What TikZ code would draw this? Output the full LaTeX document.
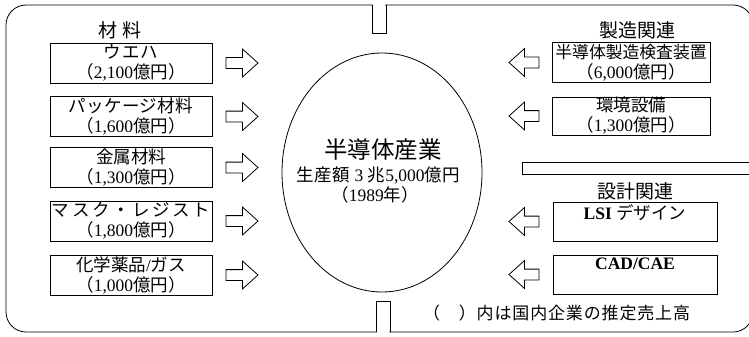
\documentclass[tikz,border=0pt]{standalone}
\usepackage{fontspec}
\setmainfont{Liberation Serif}
\newfontfamily\cj{Noto Sans CJK JP}
\usetikzlibrary{shapes.geometric,shapes.arrows}
\newcommand\jp[1]{{\cj #1}}
\newcommand\jls[2]{{\cj\addfontfeature{LetterSpace=#1}#2}}
\tikzset{
  frameline/.style={line width=0.8pt},
  box/.style={draw, line width=0.8pt, minimum width=162pt, minimum height=40pt, inner sep=0pt},
  txt/.style={align=center, font=\fontsize{17.5}{20}\selectfont, inner sep=0pt},
  head/.style={font=\fontsize{19}{20}\selectfont, inner sep=0pt},
  rarrow/.style={single arrow, draw, line width=0.8pt, inner sep=0pt, text height=10pt, text depth=0pt,
    minimum height=32pt, single arrow head extend=8.5pt, single arrow tip angle=84},
  larrow/.style={rarrow, shape border rotate=180, minimum height=30pt},
}
\begin{document}
\begin{tikzpicture}[x=1pt,y=-1pt]
\useasboundingbox (0,0) rectangle (749,337);
\clip (0,0) rectangle (749,337);
% outer frame
\draw[frameline, rounded corners=20pt] (6,5) rectangle (753,332);
\fill[white] (372.6,2) rectangle (385.4,8);
\draw[frameline] (372,5) -- (372,33) -- (386,33) -- (386,5);
\fill[white] (376.6,329) rectangle (389.4,335);
\draw[frameline] (376,332) -- (376,301) -- (390,301) -- (390,332);
\draw[frameline] (760,162) -- (522,162) -- (522,174) -- (760,174);

% headings
\node[head] (hmat) at (120,30) {\jp{材}\hspace{6pt}\jp{料}};
\node[head] (hman) at (637,30) {\jp{製造関連}};
\node[head] (hdes) at (635,191) {\jp{設計関連}};

% left boxes
\node[box] (m1) at (131,63) {};
\node[txt] at (m1) {\jls{6}{ウエハ}\\\jp{（}2,100\jp{億円）}};
\node[box] (m2) at (131,116.5) {};
\node[txt] at (m2) {\jls{2}{パッケージ材料}\\\jp{（}1,600\jp{億円）}};
\node[box] (m3) at (131,167.5) {};
\node[txt] at (m3) {\jp{金属材料}\\\jp{（}1,300\jp{億円）}};
\node[box] (m4) at (131,221) {};
\node[txt] at (m4) {\jls{15}{マスク・レジスト}\\\jp{（}1,800\jp{億円）}};
\node[box] (m5) at (131,275) {};
\node[txt] at (m5) {\jp{化学薬品}/\jp{ガス}\\\jp{（}1,000\jp{億円）}};

% left arrows
\node[rarrow] (a1) at (239,63) {};
\node[rarrow] (a2) at (239,116.5) {};
\node[rarrow] (a3) at (239,167.5) {};
\node[rarrow] (a4) at (239,221) {};
\node[rarrow] (a5) at (239,275) {};

% center ellipse
\node[ellipse, draw, line width=0.8pt, minimum width=200pt, minimum height=239pt, inner sep=0pt] (core) at (382,172.5) {};
\node[inner sep=0pt, font=\fontsize{23.5}{24}\selectfont] (c1) at (383,150) {\jp{半導体産業}};
\node[inner sep=0pt, font=\fontsize{17.5}{20}\selectfont] (c2) at (378,175) {\jls{4}{生産額} 3 \jp{兆}5,000\jp{億円}};
\node[inner sep=0pt, font=\fontsize{17.5}{20}\selectfont] (c3) at (375,195) {\jp{（}1989\jp{年）}};

% right boxes
\node[box, minimum width=158pt] (p1) at (631,62.5) {};
\node[txt] at (p1) {{\fontsize{16.8}{20}\selectfont\jp{半導体製造検査装置}}\\\jp{（}6,000\jp{億円）}};
\node[box, minimum width=158pt, minimum height=38pt] (p2) at (631,116) {};
\node[txt] at (p2) {\jp{環境設備}\\\jp{（}1,300\jp{億円）}};
\node[box, minimum width=164pt, minimum height=39pt] (d1) at (635,221.5) {};
\node[txt, anchor=north] at ([yshift=-3pt]d1.north) {\textbf{LSI} \jp{デザイン}};
\node[box, minimum width=164pt, minimum height=39pt] (d2) at (635,274.5) {};
\node[txt, anchor=north] at ([yshift=-3pt]d2.north) {\textbf{CAD/CAE}};

% right arrows
\node[larrow] (b1) at (527,62.5) {};
\node[larrow] (b2) at (527,116) {};
\node[larrow] (b3) at (527,221.5) {};
\node[larrow] (b4) at (527,274.5) {};

% footnote
\node[inner sep=0pt, anchor=west, font=\fontsize{17}{20}\selectfont] (note) at (423,313) {\jls{5}{（　）内は国内企業の推定売上高}};
\end{tikzpicture}
\end{document}
